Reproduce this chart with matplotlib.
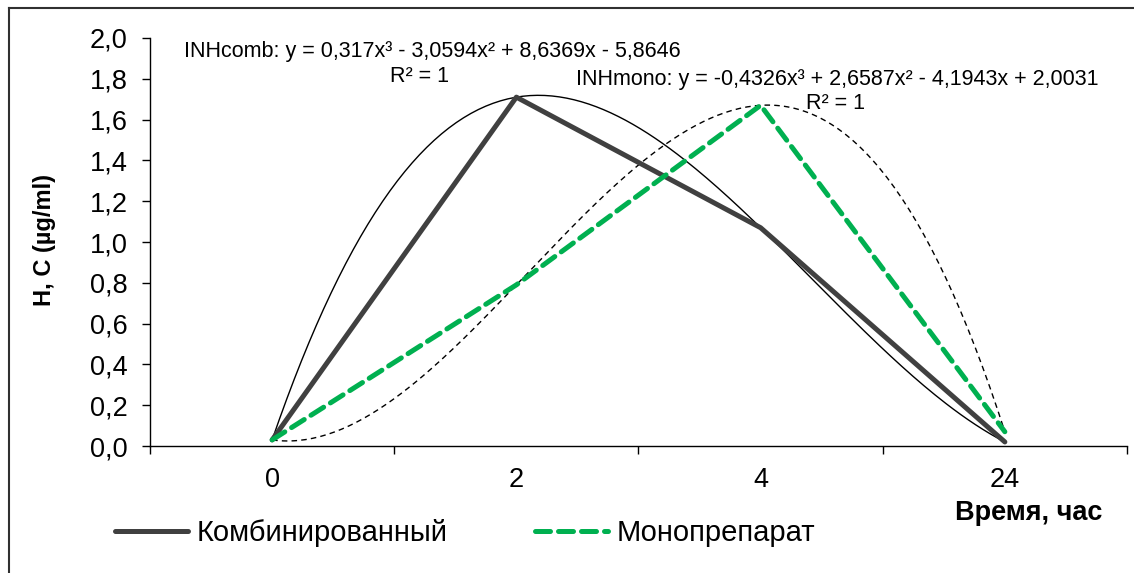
import numpy as np
import matplotlib.pyplot as plt
from matplotlib.lines import Line2D

plt.rcParams['font.family'] = ['Liberation Sans', 'DejaVu Sans']

# данные
CATEGORIES = ["0", "2", "4", "24"]
COMB = [0.03, 1.71, 1.07, 0.02]
MONO = [0.03, 0.79, 1.67, 0.07]
Y_TICKS = [0.0, 0.2, 0.4, 0.6, 0.8, 1.0, 1.2, 1.4, 1.6, 1.8, 2.0]

EQ_COMB = "INHcomb: y = 0,317x³ - 3,0594x² + 8,6369x - 5,8646"
EQ_MONO = "INHmono: y = -0,4326x³ + 2,6587x² - 4,1943x + 2,0031"


def fmt(v):
    return ("%.1f" % v).replace(".", ",")


fig = plt.figure(figsize=(11.34, 5.73), dpi=100)
ax = fig.add_axes([0.1323, 0.2216, 0.8615, 0.7121])

x = np.arange(1, len(CATEGORIES) + 1)

# линии тренда (полином 3 степени, как в Excel)
xs = np.linspace(1, 4, 200)
p_comb = np.polyfit(x, COMB, 3)
p_mono = np.polyfit(x, MONO, 3)
ax.plot(xs, np.polyval(p_comb, xs), color='black', lw=1.0)
ax.plot(xs, np.polyval(p_mono, xs), color='black', lw=1.0, ls=(0, (4, 3)))

l1, = ax.plot(x, COMB, color='#404040', lw=3.6, solid_capstyle='round',
              label="Комбинированный")
l2, = ax.plot(x, MONO, color='#00B050', lw=3.6, ls=(0, (3, 1.6)),
              dash_capstyle='round', label="Монопрепарат")

ax.set_xlim(0.5, 4.5)
ax.set_ylim(0, 2.0)
ax.set_xticks(x)
ax.set_xticklabels(CATEGORIES)
ax.set_xticks(np.arange(0.5, 4.6, 1), minor=True)
ax.tick_params(axis='x', which='major', length=0, pad=15, labelsize=19.5)
ax.tick_params(axis='x', which='minor', length=6, width=1, direction='out')
ax.set_yticks(Y_TICKS)
ax.set_yticklabels([fmt(v) for v in Y_TICKS])
ax.tick_params(axis='y', length=6, width=1, pad=10, labelsize=19.5)

for s in ['top', 'right']:
    ax.spines[s].set_visible(False)
for s in ['left', 'bottom']:
    ax.spines[s].set_linewidth(1.0)

# уравнения
fig.text(432 / 1134, 1 - 52 / 573, EQ_COMB, ha='center', va='center', fontsize=15.5)
fig.text(420 / 1134, 1 - 77 / 573, "R² = 1", ha='center', va='center', fontsize=15.5)
fig.text(837 / 1134, 1 - 80 / 573, EQ_MONO, ha='center', va='center', fontsize=15.5)
fig.text(835 / 1134, 1 - 103 / 573, "R² = 1", ha='center', va='center', fontsize=15.5)

fig.text(45 / 1134, 1 - 240 / 573, "H, C (µg/ml)", rotation=90, ha='center',
         va='center', fontsize=17, fontweight='bold')
fig.text(1029 / 1134, 1 - 513 / 573, "Время, час", ha='center', va='center',
         fontsize=19.5, fontweight='bold')

fig.legend(handles=[l1, l2], loc='center left', ncol=2,
           bbox_to_anchor=(89 / 1134, 1 - 533 / 573), frameon=False,
           fontsize=21, handlelength=2.5, handletextpad=0.3, columnspacing=3.0)

# рамка (видны только верхняя и левая стороны)
fig.add_artist(Line2D([9 / 1134, 9 / 1134], [0, 1 - 8 / 573],
                      transform=fig.transFigure, color='#303030', lw=1.5))
fig.add_artist(Line2D([9 / 1134, 1], [1 - 8 / 573, 1 - 8 / 573],
                      transform=fig.transFigure, color='#303030', lw=1.5))

fig.savefig("out.png", dpi=100)
